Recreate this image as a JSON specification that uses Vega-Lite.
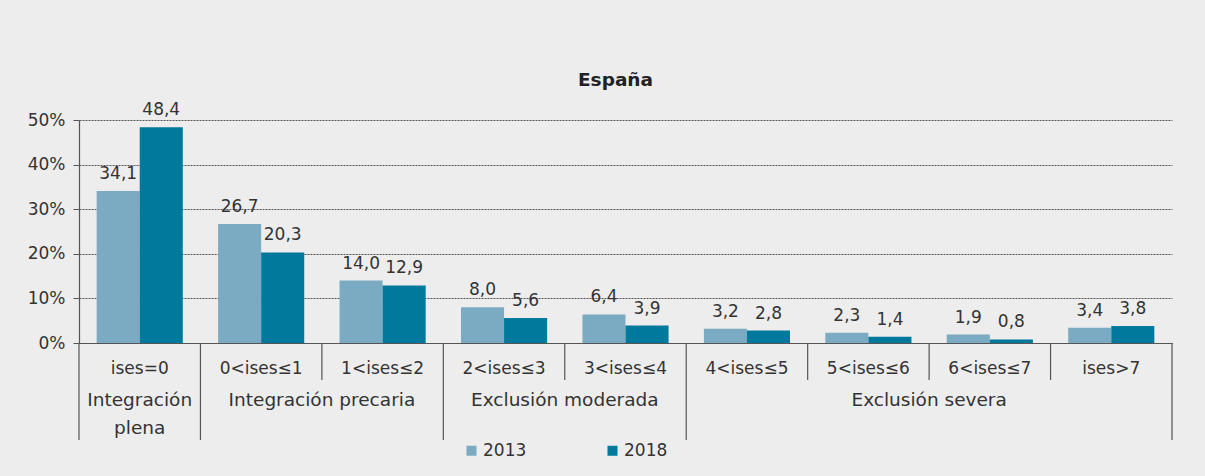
{
  "$schema": "https://vega.github.io/schema/vega-lite/v6.json",
  "width": 1093,
  "height": 223,
  "autosize": {"type": "none"},
  "padding": {"left": 79, "top": 120, "right": 33, "bottom": 133},
  "background": "#ededed",
  "title": {"text": "España", "fontSize": 18.5, "fontWeight": "bold", "font": "DejaVu Sans", "color": "#222222", "frame": "group", "anchor": "middle", "dx": -10, "offset": 12},
  "config": {
    "locale": {"number": {"decimal": ",", "thousands": ".", "grouping": [3], "currency": ["", " €"]}},
    "view": {"stroke": null},
    "font": "DejaVu Sans"
  },
  "datasets": {
    "valores": [
      {"cat": "ises=0", "year": "2013", "value": 34.1},
      {"cat": "ises=0", "year": "2018", "value": 48.4},
      {"cat": "0<ises≤1", "year": "2013", "value": 26.7},
      {"cat": "0<ises≤1", "year": "2018", "value": 20.3},
      {"cat": "1<ises≤2", "year": "2013", "value": 14.0},
      {"cat": "1<ises≤2", "year": "2018", "value": 12.9},
      {"cat": "2<ises≤3", "year": "2013", "value": 8.0},
      {"cat": "2<ises≤3", "year": "2018", "value": 5.6},
      {"cat": "3<ises≤4", "year": "2013", "value": 6.4},
      {"cat": "3<ises≤4", "year": "2018", "value": 3.9},
      {"cat": "4<ises≤5", "year": "2013", "value": 3.2},
      {"cat": "4<ises≤5", "year": "2018", "value": 2.8},
      {"cat": "5<ises≤6", "year": "2013", "value": 2.3},
      {"cat": "5<ises≤6", "year": "2018", "value": 1.4},
      {"cat": "6<ises≤7", "year": "2013", "value": 1.9},
      {"cat": "6<ises≤7", "year": "2018", "value": 0.8},
      {"cat": "ises>7", "year": "2013", "value": 3.4},
      {"cat": "ises>7", "year": "2018", "value": 3.8}
    ],
    "categorias": [
      {"cat": "ises=0", "frontera": "grupo"},
      {"cat": "0<ises≤1", "frontera": "grupo"},
      {"cat": "1<ises≤2", "frontera": "sub"},
      {"cat": "2<ises≤3", "frontera": "grupo"},
      {"cat": "3<ises≤4", "frontera": "sub"},
      {"cat": "4<ises≤5", "frontera": "grupo"},
      {"cat": "5<ises≤6", "frontera": "sub"},
      {"cat": "6<ises≤7", "frontera": "sub"},
      {"cat": "ises>7", "frontera": "sub"}
    ]
  },
  "layer": [
    {
      "data": {"name": "valores"},
      "mark": {"type": "bar"},
      "encoding": {
        "x": {
          "field": "cat", "type": "nominal", "sort": null,
          "scale": {"domain": ["ises=0", "0<ises≤1", "1<ises≤2", "2<ises≤3", "3<ises≤4", "4<ises≤5", "5<ises≤6", "6<ises≤7", "ises>7"], "paddingInner": 0, "paddingOuter": 0},
          "axis": {"labels": false, "ticks": false, "title": null, "domain": true, "domainColor": "#555555", "domainWidth": 1.2, "grid": false}
        },
        "xOffset": {"field": "year", "type": "nominal", "scale": {"paddingOuter": 0.41, "paddingInner": 0}},
        "y": {
          "field": "value", "type": "quantitative",
          "scale": {"domain": [0, 50], "nice": false, "zero": true},
          "axis": {"title": null, "values": [0, 10, 20, 30, 40, 50], "labelExpr": "datum.label + '%'", "labelFont": "DejaVu Sans", "labelFontSize": 17, "labelColor": "#333333", "tickSize": 6, "tickColor": "#555555", "domainColor": "#555555", "domainWidth": 1.2, "labelPadding": 8, "grid": true, "gridDash": [2, 1], "gridColor": "#555555", "gridWidth": 1}
        },
        "color": {
          "field": "year", "type": "nominal",
          "scale": {"domain": ["2013", "2018"], "range": ["#7aabc3", "#00799c"]},
          "legend": {"orient": "none", "legendX": 384, "legendY": 322, "direction": "horizontal", "title": null, "symbolType": "square", "symbolSize": 100, "symbolStrokeWidth": 0, "labelFontSize": 17, "labelFont": "DejaVu Sans", "labelColor": "#333333", "columnPadding": 77, "labelOffset": 3}
        }
      }
    },
    {
      "data": {"name": "valores"},
      "mark": {"type": "text", "baseline": "alphabetic", "dy": -12, "fontSize": 17, "color": "#333333"},
      "encoding": {
        "x": {"field": "cat", "type": "nominal", "sort": null},
        "xOffset": {"field": "year", "type": "nominal"},
        "y": {"field": "value", "type": "quantitative"},
        "text": {"field": "value", "type": "quantitative", "format": ".1f"}
      }
    },
    {
      "data": {"name": "categorias"},
      "mark": {"type": "text", "baseline": "middle", "dy": 26, "fontSize": 17, "color": "#333333"},
      "encoding": {
        "x": {"field": "cat", "type": "nominal", "sort": null},
        "y": {"datum": 0, "type": "quantitative"},
        "text": {"field": "cat", "type": "nominal"}
      }
    },
    {
      "data": {"name": "categorias"},
      "transform": [{"filter": "datum.frontera === 'sub'"}],
      "mark": {"type": "rule", "color": "#555555", "strokeWidth": 1.2},
      "encoding": {
        "x": {"field": "cat", "type": "nominal", "sort": null, "bandPosition": 0},
        "y": {"datum": 0, "type": "quantitative"},
        "y2": {"datum": -8.3}
      }
    },
    {
      "data": {"name": "categorias"},
      "transform": [{"filter": "datum.frontera === 'grupo'"}],
      "mark": {"type": "rule", "color": "#555555", "strokeWidth": 1.2},
      "encoding": {
        "x": {"field": "cat", "type": "nominal", "sort": null, "bandPosition": 0},
        "y": {"datum": 0, "type": "quantitative"},
        "y2": {"datum": -21.75}
      }
    },
    {
      "data": {"name": "categorias"},
      "transform": [{"filter": "datum.cat === 'ises>7'"}],
      "mark": {"type": "rule", "color": "#555555", "strokeWidth": 1.2},
      "encoding": {
        "x": {"field": "cat", "type": "nominal", "sort": null, "bandPosition": 1},
        "y": {"datum": 0, "type": "quantitative"},
        "y2": {"datum": -21.75}
      }
    },
    {
      "data": {"values": [{"grupo": ["Integración", "plena"], "cat": "ises=0"}]},
      "mark": {"type": "text", "baseline": "alphabetic", "dy": 63, "fontSize": 18.5, "lineHeight": 28, "color": "#333333"},
      "encoding": {
        "x": {"field": "cat", "type": "nominal", "sort": null},
        "y": {"datum": 0, "type": "quantitative"},
        "text": {"field": "grupo"}
      }
    },
    {
      "data": {"values": [
        {"grupo": "Integración precaria", "cat": "1<ises≤2"},
        {"grupo": "Exclusión moderada", "cat": "3<ises≤4"},
        {"grupo": "Exclusión severa", "cat": "6<ises≤7"}
      ]},
      "mark": {"type": "text", "baseline": "alphabetic", "dy": 63, "fontSize": 18.5, "color": "#333333"},
      "encoding": {
        "x": {"field": "cat", "type": "nominal", "sort": null, "bandPosition": 0},
        "y": {"datum": 0, "type": "quantitative"},
        "text": {"field": "grupo", "type": "nominal"}
      }
    }
  ]
}
